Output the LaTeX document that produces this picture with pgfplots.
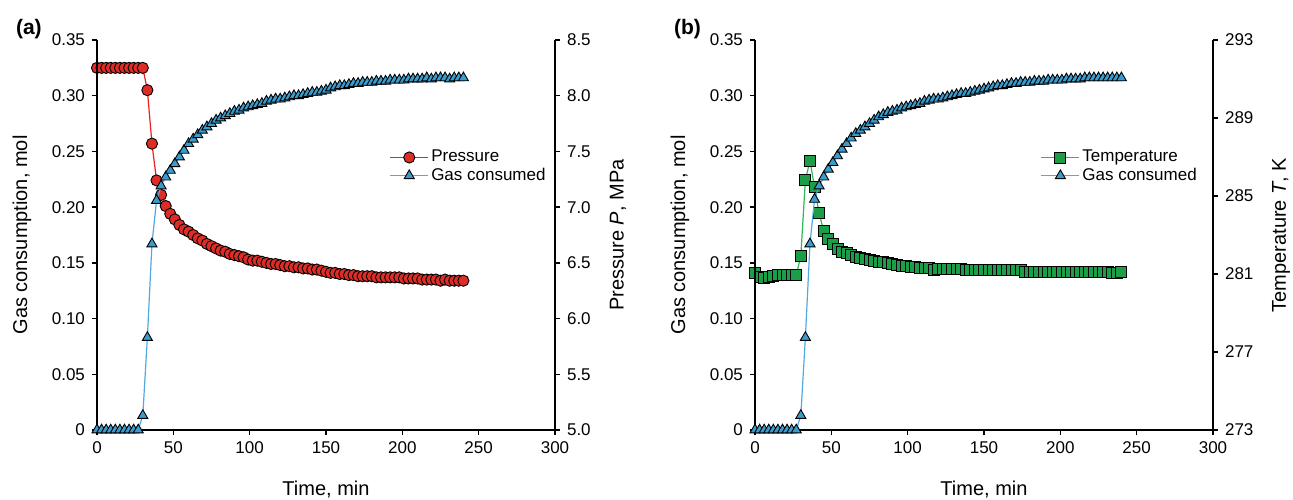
\documentclass[border=0pt]{standalone}
\usepackage{fontspec}
\setmainfont{Liberation Sans}
\usepackage{pgfplots}
\usepackage{pgfplotstable}
\pgfplotsset{compat=1.18}

\definecolor{pline}{RGB}{235,35,30}
\definecolor{pfill}{RGB}{222,45,38}
\definecolor{gline}{RGB}{80,170,222}
\definecolor{gfill}{RGB}{58,156,205}
\definecolor{tline}{RGB}{45,185,85}
\definecolor{tfill}{RGB}{28,158,72}

% time (min), pressure (MPa), gas consumed (mol)
\pgfplotstableread{
t P gas
0 8.25 0
3 8.25 0
6 8.25 0
9 8.25 0
12 8.25 0
15 8.25 0
18 8.25 0
21 8.25 0
24 8.25 0
27 8.25 0
30 8.25 0.013
33 8.05 0.083
36 7.57 0.167
39 7.24 0.206
42 7.11 0.219
45 7.01 0.227
48 6.94 0.233
51 6.89 0.239
54 6.84 0.245
57 6.80 0.251
60 6.78 0.257
63 6.75 0.261
66 6.72 0.265
69 6.70 0.269
72 6.67 0.272
75 6.65 0.275
78 6.63 0.278
81 6.61 0.280
84 6.60 0.282
87 6.58 0.284
90 6.57 0.286
93 6.56 0.287
96 6.55 0.289
99 6.53 0.290
102 6.52 0.291
105 6.52 0.292
108 6.51 0.293
111 6.50 0.295
114 6.49 0.296
117 6.49 0.297
120 6.48 0.297
123 6.47 0.298
126 6.47 0.299
129 6.46 0.300
132 6.46 0.300
135 6.45 0.301
138 6.45 0.302
141 6.44 0.303
144 6.44 0.303
147 6.43 0.304
150 6.42 0.305
153 6.41 0.307
156 6.41 0.308
159 6.40 0.309
162 6.40 0.309
165 6.39 0.310
168 6.39 0.311
171 6.38 0.311
174 6.38 0.312
177 6.38 0.312
180 6.38 0.312
183 6.37 0.313
186 6.37 0.313
189 6.37 0.313
192 6.37 0.314
195 6.37 0.314
198 6.37 0.314
201 6.36 0.314
204 6.36 0.315
207 6.36 0.315
210 6.36 0.315
213 6.35 0.315
216 6.35 0.316
219 6.35 0.315
222 6.35 0.316
225 6.34 0.316
228 6.35 0.316
231 6.34 0.315
234 6.34 0.316
237 6.34 0.316
240 6.34 0.316
}\dataA

% time (min), temperature (K), gas consumed (mol)
\pgfplotstableread{
t T gas
0 281.04 0
3 280.83 0
6 280.80 0
9 280.83 0
12 280.90 0
15 280.93 0
18 280.93 0
21 280.93 0
24 280.93 0
27 280.93 0
30 281.92 0.013
33 285.82 0.083
36 286.81 0.167
39 285.45 0.207
42 284.11 0.219
45 283.20 0.227
48 282.80 0.234
51 282.55 0.240
54 282.30 0.246
57 282.15 0.252
60 282.06 0.257
63 281.98 0.262
66 281.88 0.266
69 281.80 0.269
72 281.75 0.272
75 281.70 0.275
78 281.66 0.278
81 281.62 0.281
84 281.60 0.283
87 281.56 0.285
90 281.50 0.286
93 281.46 0.287
96 281.43 0.289
99 281.40 0.290
102 281.37 0.291
105 281.35 0.292
108 281.33 0.293
111 281.32 0.295
114 281.32 0.296
117 281.20 0.297
120 281.28 0.297
123 281.27 0.298
126 281.26 0.299
129 281.25 0.300
132 281.25 0.301
135 281.24 0.302
138 281.23 0.302
141 281.22 0.303
144 281.22 0.304
147 281.21 0.305
150 281.21 0.306
153 281.21 0.307
156 281.21 0.308
159 281.21 0.309
162 281.21 0.309
165 281.21 0.310
168 281.21 0.311
171 281.21 0.311
174 281.21 0.312
177 281.12 0.312
180 281.12 0.312
183 281.12 0.313
186 281.12 0.313
189 281.12 0.313
192 281.12 0.314
195 281.12 0.314
198 281.12 0.314
201 281.12 0.314
204 281.12 0.315
207 281.12 0.315
210 281.12 0.315
213 281.12 0.315
216 281.12 0.316
219 281.12 0.316
222 281.12 0.316
225 281.12 0.316
228 281.12 0.316
231 281.12 0.316
234 281.04 0.316
237 281.06 0.316
240 281.12 0.316
}\dataB

\pgfplotsset{
  base/.style={
    scale only axis, width=229pt, height=195pt,
    xmin=0, xmax=300, clip=false,
    tick align=outside, major tick length=2.5pt,
    axis line style={-, line width=0.75pt},
    every tick/.style={black, line width=0.75pt},
    tick label style={font=\fontsize{8.5}{10}\selectfont},
    /pgf/number format/assume math mode=true,
    label style={font=\fontsize{10}{12}\selectfont},
  },
  leftax/.style={base,
    axis x line*=bottom, axis y line*=left,
    ymin=0, ymax=0.35,
    xtick={0,50,...,300},
    ytick={0,0.05,0.10,0.15,0.20,0.25,0.30,0.35},
    yticklabels={0,0.05,0.10,0.15,0.20,0.25,0.30,0.35},
    every axis y label/.style={at={(axis description cs:0,0.5)}, rotate=90, anchor=center, yshift=37.5pt},
    every axis x label/.style={at={(axis description cs:0.5,0)}, anchor=center, yshift=-30pt},
    xlabel={Time, min}, ylabel={Gas consumption, mol},
  },
  rightax/.style={base,
    axis x line=none, axis y line*=right,
    every axis y label/.style={at={(axis description cs:1,0.5)}, rotate=90, anchor=center, yshift=-#1},
    legend style={draw=none, fill=none, anchor=north west,
      font=\fontsize{8.5}{10}\selectfont, row sep=-0.8pt,
      nodes={inner sep=1.2pt}},
    legend cell align=left,
    legend image code/.code={\draw[mark repeat=2,mark phase=2,##1] plot coordinates {(0pt,0pt) (9.5pt,0pt) (19pt,0pt)};},
  },
  gas/.style={gline, line width=0.6pt, mark=triangle*, mark size=2.9pt,
    mark options={fill=gfill, draw=black, line width=0.45pt}},
  pres/.style={pline, line width=0.6pt, mark=*, mark size=2.8pt,
    mark options={fill=pfill, draw=black, line width=0.45pt}},
  temp/.style={tline, line width=0.6pt, mark=square*, mark size=2.75pt,
    mark options={fill=tfill, draw=black, line width=0.45pt}},
}

\begin{document}
\begin{tikzpicture}
\useasboundingbox (-48.5pt,-34.5pt) rectangle (598pt,215pt);

% ---- panel (a)
\begin{axis}[rightax=31.5pt, at={(0,0)},
  ymin=5, ymax=8.5, ytick={5,5.5,...,8.5},
  yticklabel style={/pgf/number format/.cd, fixed, fixed zerofill, precision=1},
  ylabel={Pressure \textit{P}, MPa},
  legend style={at={(axis description cs:0.625,0.735)}}]
\addplot[pres] table[x=t, y=P] {\dataA};
\addlegendentry{Pressure}
\addlegendimage{gas}
\addlegendentry{Gas consumed}
\end{axis}
\begin{axis}[leftax, at={(0,0)}]
\addplot[gas] table[x=t, y=gas] {\dataA};
\end{axis}
\node[anchor=west, font=\bfseries\fontsize{10.5}{12}\selectfont] at (-44pt,200.5pt) {(a)};

% ---- panel (b)
\begin{axis}[rightax=34pt, at={(329pt,0)},
  ymin=273, ymax=293, ytick={273,277,...,293},
  ylabel={Temperature \textit{T}, K},
  legend style={at={(axis description cs:0.61,0.735)}}]
\addplot[temp] table[x=t, y=T] {\dataB};
\addlegendentry{Temperature}
\addlegendimage{gas}
\addlegendentry{Gas consumed}
\end{axis}
\begin{axis}[leftax, at={(329pt,0)}]
\addplot[gas] table[x=t, y=gas] {\dataB};
\end{axis}
\node[anchor=west, font=\bfseries\fontsize{10.5}{12}\selectfont] at (285pt,200.5pt) {(b)};
\end{tikzpicture}
\end{document}
